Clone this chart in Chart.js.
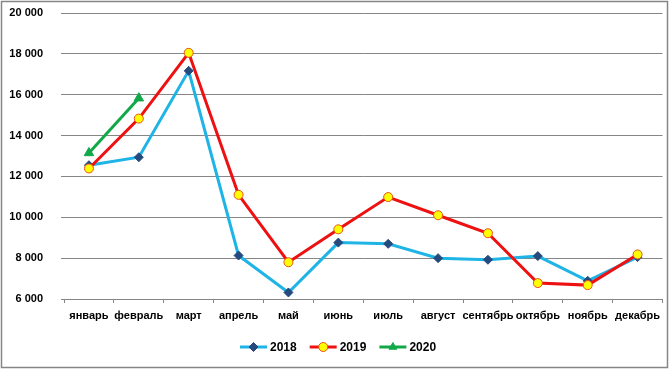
<!DOCTYPE html>
<html>
<head>
<meta charset="utf-8">
<script src="https://cdn.jsdelivr.net/npm/chart.js@4/dist/chart.umd.min.js"></script>
<style>
html,body{margin:0;padding:0;background:#fff;}
#wrap{width:669px;height:369px;position:relative;}
</style>
</head>
<body>
<div id="wrap"><canvas id="c" width="669" height="369"></canvas></div>
<script>
const months = ['январь','февраль','март','апрель','май','июнь','июль','август','сентябрь','октябрь','ноябрь','декабрь'];
const seriesNames = ['2018','2019','2020'];
const values2018 = [12550, 12940, 17170, 8130, 6320, 8760, 8700, 8000, 7920, 8100, 6890, 8050];
const values2019 = [12390, 14830, 18050, 11100, 7800, 9410, 10990, 10100, 9220, 6780, 6680, 8180];
const values2020 = [13150, 15830];
const yTicks = [6000, 8000, 10000, 12000, 14000, 16000, 18000, 20000];

const FONT = 'Liberation Sans, Arial, sans-serif';

function fmt(v){ return String(v).replace(/\B(?=(\d{3})+(?!\d))/g, ' '); }

const borderPlugin = {
  id: 'outerBorder',
  afterDraw(chart){
    const ctx = chart.ctx;
    ctx.save();
    ctx.strokeStyle = '#868686';
    ctx.lineWidth = 1.5;
    ctx.strokeRect(1.5, 1.5, chart.width - 3, chart.height - 3);
    ctx.restore();
  }
};

const legendPlugin = {
  id: 'customLegend',
  afterDraw(chart){
    const ctx = chart.ctx;
    const y = 347;
    const lineLen = 27, gap = 3, itemGap = 13;
    ctx.save();
    ctx.font = 'bold 12px ' + FONT;
    const widths = chart.data.datasets.map(d => lineLen + gap + ctx.measureText(d.label).width);
    let x = 240;
    chart.data.datasets.forEach((d, i) => {
      ctx.strokeStyle = d.borderColor;
      ctx.lineWidth = 3;
      ctx.beginPath();
      ctx.moveTo(x, y);
      ctx.lineTo(x + lineLen, y);
      ctx.stroke();
      ctx.fillStyle = d.pointBackgroundColor;
      ctx.strokeStyle = d.pointBorderColor;
      ctx.lineWidth = d.pointBorderWidth;
      Chart.helpers.drawPoint(ctx, {
        pointStyle: d.pointStyle,
        radius: d.legendRadius,
        rotation: 0,
        borderWidth: d.pointBorderWidth
      }, x + lineLen/2, y);
      ctx.fillStyle = '#000';
      ctx.textBaseline = 'middle';
      ctx.textAlign = 'left';
      ctx.fillText(d.label, x + lineLen + gap, y + 0.5);
      x += widths[i] + itemGap;
    });
    ctx.restore();
  }
};

new Chart(document.getElementById('c'), {
  type: 'line',
  data: {
    labels: months,
    datasets: [
      {
        label: seriesNames[0],
        data: values2018,
        borderColor: '#1fb4e6',
        borderWidth: 3,
        pointStyle: 'rectRot',
        pointRadius: 4.5,
        legendRadius: 4.5,
        pointBackgroundColor: '#254a7d',
        pointBorderColor: '#254a7d',
        pointBorderWidth: 1,
        tension: 0,
        order: 3
      },
      {
        label: seriesNames[1],
        data: values2019,
        borderColor: '#ee1111',
        borderWidth: 3,
        pointStyle: 'circle',
        pointRadius: 4.5,
        legendRadius: 4.5,
        pointBackgroundColor: '#ffff00',
        pointBorderColor: '#e8501a',
        pointBorderWidth: 1,
        tension: 0,
        order: 2
      },
      {
        label: seriesNames[2],
        data: values2020,
        borderColor: '#12a84a',
        borderWidth: 3,
        pointStyle: 'triangle',
        pointRadius: 5.5,
        legendRadius: 4.5,
        pointBackgroundColor: '#12a84a',
        pointBorderColor: '#12a84a',
        pointBorderWidth: 1,
        tension: 0,
        order: 1
      }
    ]
  },
  options: {
    responsive: false,
    animation: false,
    devicePixelRatio: 1,
    layout: { padding: { top: 13, right: 4, left: 0, bottom: 0 } },
    plugins: {
      legend: { display: false },
      tooltip: { enabled: false },
      title: { display: false }
    },
    scales: {
      x: {
        offset: true,
        grid: {
          offset: true,
          drawOnChartArea: false,
          drawTicks: true,
          tickLength: 4,
          color: '#868686',
          lineWidth: 1
        },
        border: { display: true, color: '#868686', width: 1 },
        ticks: {
          font: { family: FONT, size: 11, weight: 'bold' },
          color: '#000',
          padding: 6,
          maxRotation: 0,
          autoSkip: false
        },
        afterFit(scale){ scale.height = 70; }
      },
      y: {
        min: 6000,
        max: 20000,
        afterBuildTicks(scale){ scale.ticks = yTicks.map(v => ({ value: v })); },
        grid: {
          color: '#868686',
          lineWidth: 1,
          drawTicks: true,
          tickLength: 3
        },
        border: { display: false },
        ticks: {
          font: { family: FONT, size: 11, weight: 'bold' },
          color: '#000',
          padding: 18,
          callback: v => fmt(v)
        },
        afterFit(scale){ scale.width = 64; scale.paddingTop = 6; scale.paddingBottom = 0; }
      }
    }
  },
  plugins: [borderPlugin, legendPlugin]
});
</script>
</body>
</html>
